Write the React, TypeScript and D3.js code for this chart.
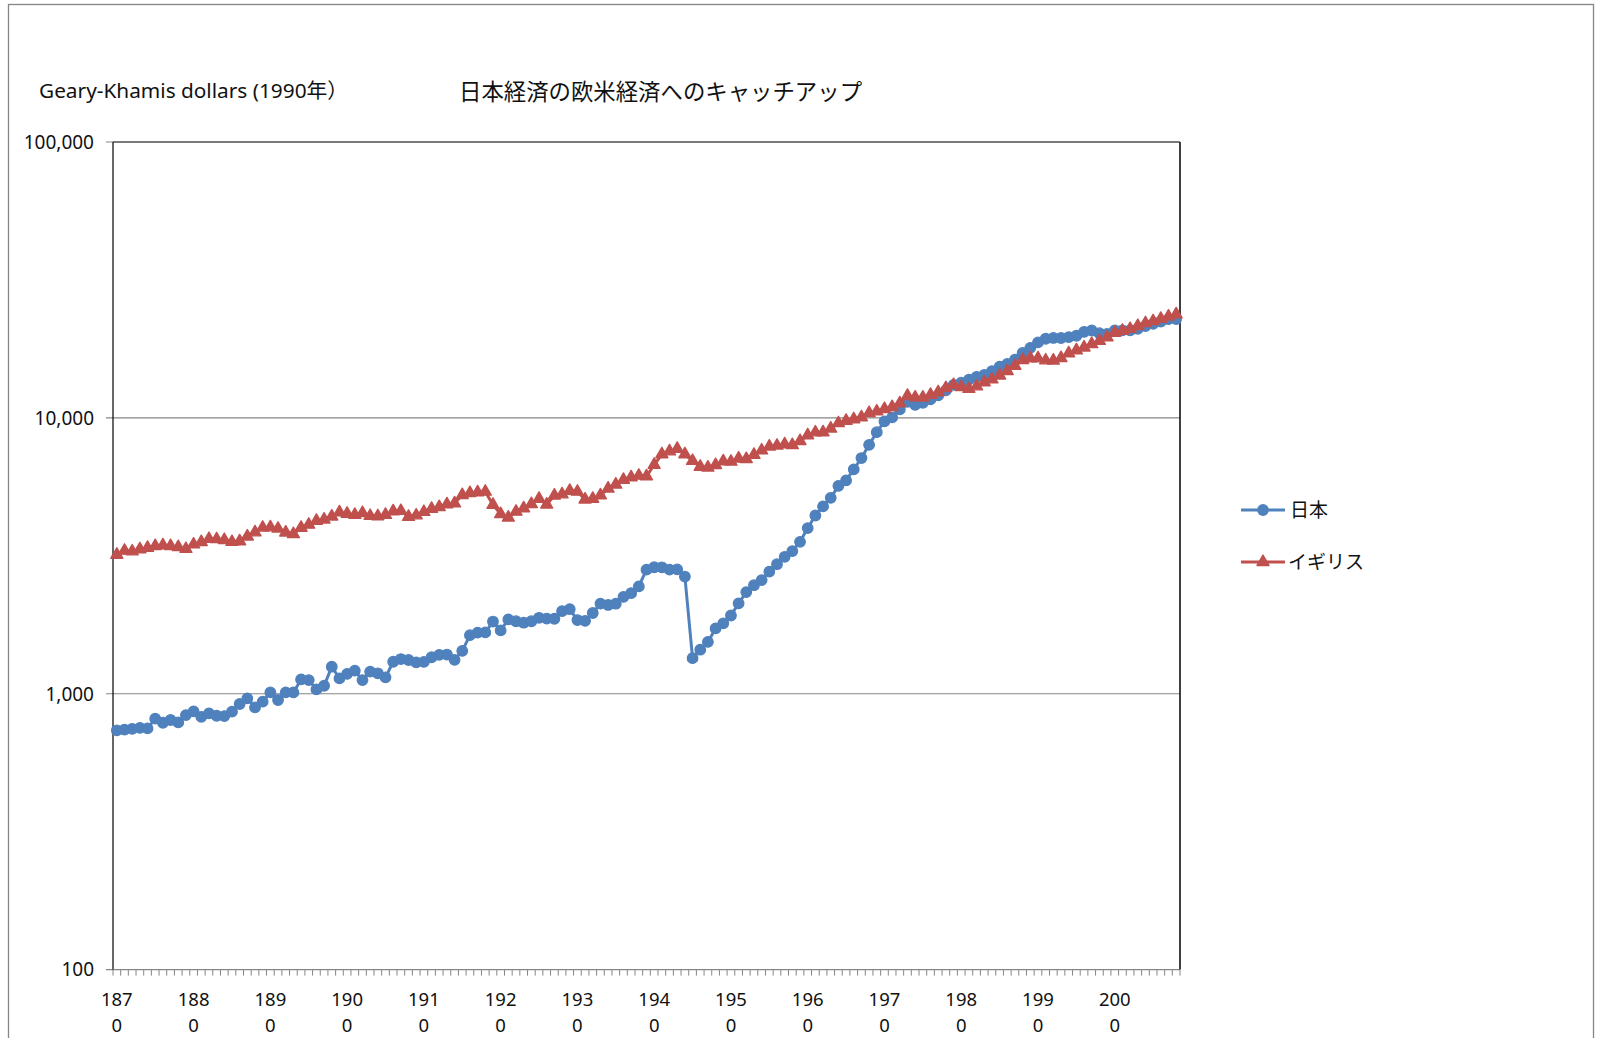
import React from "react";
import * as d3 from "d3";

const chartTitle = "日本経済の欧米経済へのキャッチアップ";
const unitLabel = "Geary-Khamis dollars (1990年）";
const seriesNames = ["日本", "イギリス"];

// categories: one per year, 1870-2008
const years = d3.range(1870, 2009);

// per capita GDP, 1990 GK$
const japan = [
  737, 741, 746, 752, 749, 812, 785, 803, 787, 837,
  863, 825, 849, 832, 830, 861, 918, 962, 892, 936,
  1012, 949, 1011, 1011, 1127, 1121, 1037, 1069, 1253, 1137,
  1180, 1212, 1121, 1202, 1186, 1147, 1306, 1336, 1325, 1299,
  1304, 1356, 1384, 1387, 1327, 1430, 1630, 1665, 1668, 1827,
  1696, 1860, 1831, 1809, 1831, 1885, 1872, 1870, 1992, 2026,
  1850, 1837, 1962, 2122, 2098, 2120, 2244, 2315, 2449, 2816,
  2874, 2873, 2818, 2822, 2659, 1346, 1444, 1541, 1725, 1800,
  1921, 2126, 2336, 2474, 2582, 2771, 2948, 3136, 3289, 3554,
  3986, 4426, 4777, 5129, 5668, 5934, 6506, 7152, 7983, 8874,
  9714, 10040, 10734, 11434, 11145, 11344, 11669, 12064, 12585, 13163,
  13428, 13754, 14078, 14307, 14773, 15332, 15680, 16251, 17185, 17943,
  18789, 19355, 19482, 19478, 19612, 19849, 20494, 20739, 20262, 20146,
  20738, 20770, 20746, 21018, 21510, 21914, 22357, 22790, 22816,
];

const uk = [
  3190, 3300, 3280, 3340, 3380, 3430, 3450, 3430, 3400, 3350,
  3477, 3545, 3640, 3633, 3608, 3550, 3570, 3715, 3845, 4000,
  4009, 3966, 3841, 3790, 3996, 4100, 4235, 4280, 4390, 4545,
  4492, 4450, 4520, 4411, 4400, 4450, 4585, 4600, 4380, 4430,
  4560, 4680, 4750, 4860, 4900, 5250, 5340, 5370, 5400, 4840,
  4480, 4350, 4570, 4700, 4870, 5090, 4850, 5230, 5280, 5440,
  5400, 5060, 5090, 5240, 5540, 5730, 5960, 6090, 6170, 6140,
  6760, 7380, 7560, 7720, 7380, 6980, 6650, 6604, 6745, 6956,
  6939, 7123, 7091, 7346, 7619, 7868, 7929, 8017, 7966, 8240,
  8645, 8857, 8865, 9149, 9568, 9752, 9885, 10049, 10410, 10552,
  10767, 10941, 11294, 12025, 11859, 11847, 12115, 12384, 12828, 13167,
  12931, 12747, 13003, 13455, 13778, 14243, 14780, 15444, 16193, 16445,
  16430, 16157, 16133, 16478, 17138, 17567, 17996, 18514, 19010, 19568,
  20353, 20681, 21013, 21531, 22049, 22418, 22849, 23300, 23742,
];

const yTicks = [100, 1000, 10000, 100000];
const xTickLabels = [
  "1870", "1880", "1890", "1900", "1910", "1920", "1930",
  "1940", "1950", "1960", "1970", "1980", "1990", "2000",
];

const W = 1602;
const H = 1038;
const plot = { left: 113, right: 1180, top: 142, bottom: 969.6 };
const BLUE = "#4F81BD";
const RED = "#C0504D";
const GRID = "#868686";
const FONT = "'Noto Sans', 'Noto Sans CJK JP', sans-serif";
const CJK = "'Noto Sans CJK JP', 'Noto Sans', sans-serif";

export default function App() {
  const x = d3
    .scaleBand<number>()
    .domain(years)
    .range([plot.left, plot.right])
    .padding(0);
  const bw = x.bandwidth();
  const cx = (yr: number) => (x(yr) as number) + bw / 2;

  const y = d3
    .scaleLog()
    .domain([100, 100000])
    .range([plot.bottom, plot.top]);

  const line = d3
    .line<number>()
    .x((_, i) => cx(years[i]))
    .y((d) => y(d));

  const tri = d3.symbol().type(d3.symbolTriangle).size(62)();
  const fmt = d3.format(",");

  const boundaries = years.map((yr) => x(yr) as number).concat([plot.right]);

  return (
    <svg
      width={W}
      height={H}
      style={{ position: "absolute", left: 0, top: 0, display: "block" }}
    >
      <rect x={0} y={0} width={W} height={H} fill="#fff" />
      <rect
        x={8.5}
        y={4.5}
        width={1585}
        height={1100}
        fill="none"
        stroke={GRID}
        strokeWidth={1.3}
      />

      <text x={39} y={98} fontFamily={FONT} fontSize={20.8} fill="#111">
        {unitLabel}
      </text>
      <text x={459} y={100} fontFamily={CJK} fontSize={22.4} fill="#111">
        {chartTitle}
      </text>

      {/* gridlines */}
      {yTicks.map((t) => (
        <g key={t}>
          <line
            x1={plot.left - 7}
            x2={plot.right}
            y1={y(t)}
            y2={y(t)}
            stroke={GRID}
            strokeWidth={1.2}
          />
          <text
            x={94}
            y={y(t)}
            dy="0.36em"
            textAnchor="end"
            fontFamily={FONT}
            fontSize={19}
            fill="#111"
          >
            {fmt(t)}
          </text>
        </g>
      ))}

      {/* plot border */}
      <line x1={plot.left} x2={plot.left} y1={plot.top} y2={plot.bottom} stroke="#000" strokeWidth={1.2} />
      <line x1={plot.right} x2={plot.right} y1={plot.top} y2={plot.bottom} stroke="#000" strokeWidth={1.5} />
      <line x1={plot.left} x2={plot.right} y1={plot.top} y2={plot.top} stroke="#333" strokeWidth={1.2} />

      {/* x axis ticks */}
      {boundaries.map((bx, i) => (
        <line
          key={i}
          x1={bx}
          x2={bx}
          y1={plot.bottom}
          y2={plot.bottom + 6}
          stroke={GRID}
          strokeWidth={1}
        />
      ))}
      {xTickLabels.map((lab) => {
        const px = cx(+lab);
        return (
          <text
            key={lab}
            x={px}
            textAnchor="middle"
            fontFamily={FONT}
            fontSize={18.5}
            fill="#111"
          >
            <tspan x={px} y={1006}>{lab.slice(0, 3)}</tspan>
            <tspan x={px} y={1032}>{lab.slice(3)}</tspan>
          </text>
        );
      })}

      {/* Japan */}
      <path d={line(japan) ?? ""} fill="none" stroke={BLUE} strokeWidth={3} strokeLinejoin="round" />
      {japan.map((v, i) => (
        <circle key={i} cx={cx(years[i])} cy={y(v)} r={5.3} fill={BLUE} stroke={BLUE} strokeWidth={1.2} />
      ))}

      {/* UK */}
      <path d={line(uk) ?? ""} fill="none" stroke={RED} strokeWidth={3} strokeLinejoin="round" />
      {uk.map((v, i) => (
        <path
          key={i}
          d={tri ?? ""}
          transform={`translate(${cx(years[i])},${y(v)})`}
          fill={RED}
          stroke={RED}
          strokeWidth={1.4}
          strokeLinejoin="round"
        />
      ))}

      {/* legend */}
      <g>
        <line x1={1241} x2={1285} y1={510} y2={510} stroke={BLUE} strokeWidth={3} />
        <circle cx={1263} cy={510} r={5.3} fill={BLUE} stroke={BLUE} strokeWidth={1.2} />
        <text x={1290} y={517} fontFamily={CJK} fontSize={19} fill="#111">
          {seriesNames[0]}
        </text>
        <line x1={1241} x2={1285} y1={562} y2={562} stroke={RED} strokeWidth={3} />
        <path d={tri ?? ""} transform="translate(1263,562)" fill={RED} stroke={RED} strokeWidth={1.4} strokeLinejoin="round" />
        <text x={1288} y={569} fontFamily={CJK} fontSize={19} fill="#111">
          {seriesNames[1]}
        </text>
      </g>
    </svg>
  );
}
